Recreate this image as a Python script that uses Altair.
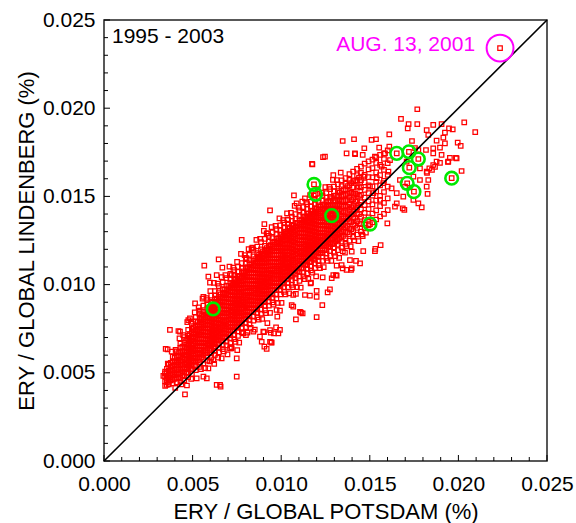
import altair as alt
import pandas as pd

# Erythemal / global irradiance ratios, stored in units of 1e-5 %.
# Dense band of daily values: column position on the Potsdam axis -> Lindenberg values
core_columns = {
    345: [426, 452, 479, 507],
    366: [434, 457, 485, 512, 546],
    388: [440, 463, 491, 512, 540, 563, 592],
    410: [445, 471, 490, 518, 543, 561, 590, 622],
    431: [451, 470, 498, 523, 544, 571, 590, 617, 641, 666],
    453: [458, 481, 503, 531, 549, 576, 598, 619, 648, 670, 703],
    475: [476, 500, 527, 545, 571, 590, 617, 639, 660, 688, 711, 744],
    496: [494, 520, 541, 569, 586, 612, 636, 654, 681, 700, 729, 750, 779],
    518: [515, 537, 564, 582, 609, 628, 653, 671, 699, 717, 744, 764, 791, 815],
    540: [534, 562, 580, 607, 625, 652, 670, 696, 716, 742, 760, 787, 806, 832, 853],
    561: [554, 576, 603, 621, 648, 668, 690, 713, 735, 759, 777, 804, 824, 847, 881],
    583: [569, 595, 615, 643, 661, 687, 705, 731, 752, 774, 797, 815, 843, 861, 889, 912],
    605: [585, 612, 630, 657, 678, 698, 724, 742, 769, 788, 813, 832, 857, 875, 902, 937],
    626: [601, 624, 650, 668, 695, 716, 738, 760, 782, 806, 827, 849, 873, 893, 917, 939, 963],
    648: [616, 643, 662, 689, 708, 733, 751, 778, 797, 822, 840, 866, 884, 911, 930, 956, 991],
    670: [634, 657, 683, 702, 728, 746, 773, 793, 815, 838, 858, 884, 903, 929, 950, 974, 1012],
    691: [656, 677, 704, 722, 749, 767, 794, 812, 838, 857, 881, 903, 925, 948, 970, 994, 1037],
    713: [669, 696, 714, 741, 761, 785, 805, 830, 849, 874, 894, 918, 938, 963, 983, 1009, 1033, 1061],
    735: [691, 713, 739, 757, 784, 803, 827, 847, 871, 892, 914, 936, 960, 980, 1004, 1027, 1052, 1082],
    756: [709, 735, 754, 780, 799, 825, 843, 869, 888, 913, 932, 957, 976, 1002, 1021, 1047, 1072, 1101],
    778: [731, 753, 779, 798, 823, 843, 867, 887, 912, 931, 956, 975, 1001, 1020, 1045, 1066, 1092, 1122],
    800: [759, 781, 806, 825, 851, 870, 894, 914, 938, 958, 983, 1002, 1028, 1047, 1072, 1094, 1119, 1151],
    821: [774, 800, 820, 845, 866, 889, 910, 934, 954, 978, 999, 1022, 1044, 1067, 1090, 1113, 1139, 1168],
    843: [796, 818, 844, 863, 889, 908, 933, 953, 977, 998, 1021, 1043, 1066, 1088, 1111, 1134, 1160, 1197],
    865: [814, 840, 860, 885, 906, 929, 951, 974, 996, 1018, 1041, 1063, 1086, 1108, 1131, 1154, 1179, 1216],
    886: [836, 858, 883, 903, 928, 949, 972, 994, 1016, 1039, 1061, 1084, 1106, 1129, 1151, 1174, 1200, 1241],
    908: [854, 880, 900, 925, 946, 969, 991, 1014, 1036, 1058, 1081, 1103, 1126, 1148, 1171, 1194, 1220, 1259],
    930: [881, 903, 928, 948, 973, 993, 1017, 1038, 1061, 1083, 1105, 1128, 1150, 1173, 1195, 1218, 1244, 1276],
    951: [899, 925, 945, 970, 991, 1014, 1036, 1059, 1081, 1103, 1126, 1148, 1171, 1193, 1216, 1238, 1264, 1296],
    973: [921, 943, 968, 988, 1013, 1034, 1057, 1079, 1101, 1124, 1146, 1169, 1191, 1214, 1236, 1259, 1285, 1314],
    995: [944, 970, 990, 1015, 1036, 1059, 1081, 1104, 1126, 1148, 1171, 1193, 1216, 1238, 1261, 1283, 1308, 1336],
    1016: [959, 985, 1005, 1030, 1051, 1074, 1096, 1119, 1141, 1163, 1186, 1208, 1231, 1253, 1276, 1298, 1322, 1351],
    1038: [986, 1008, 1033, 1053, 1078, 1099, 1122, 1144, 1166, 1189, 1211, 1234, 1256, 1279, 1301, 1324, 1346, 1369],
    1060: [999, 1025, 1045, 1070, 1091, 1114, 1136, 1159, 1181, 1203, 1226, 1248, 1271, 1293, 1316, 1338, 1361, 1386],
    1081: [1011, 1037, 1057, 1082, 1103, 1126, 1148, 1171, 1193, 1215, 1238, 1260, 1283, 1305, 1328, 1350, 1373, 1399],
    1103: [1021, 1047, 1072, 1092, 1117, 1138, 1161, 1183, 1206, 1228, 1250, 1273, 1295, 1318, 1340, 1363, 1388, 1421],
    1125: [1046, 1068, 1093, 1113, 1138, 1159, 1182, 1204, 1227, 1249, 1271, 1294, 1316, 1339, 1361, 1384, 1408, 1439],
    1146: [1064, 1090, 1110, 1135, 1156, 1179, 1201, 1224, 1246, 1268, 1291, 1313, 1336, 1358, 1381, 1403, 1428, 1456],
    1168: [1081, 1103, 1128, 1148, 1173, 1194, 1217, 1239, 1262, 1284, 1306, 1329, 1351, 1374, 1396, 1419, 1443, 1469],
    1190: [1094, 1120, 1140, 1165, 1186, 1209, 1231, 1254, 1276, 1298, 1321, 1343, 1366, 1388, 1411, 1433, 1456, 1481],
    1211: [1111, 1133, 1158, 1178, 1203, 1224, 1247, 1269, 1292, 1314, 1336, 1359, 1381, 1404, 1426, 1449, 1468, 1491],
    1233: [1134, 1160, 1180, 1205, 1226, 1249, 1271, 1294, 1316, 1338, 1361, 1383, 1406, 1428, 1451, 1476, 1504],
    1255: [1151, 1177, 1197, 1222, 1243, 1266, 1288, 1311, 1333, 1355, 1378, 1400, 1423, 1445, 1468, 1493, 1519],
    1276: [1164, 1190, 1215, 1238, 1261, 1286, 1307, 1333, 1354, 1379, 1401, 1426, 1447, 1473, 1497, 1541],
    1298: [1181, 1211, 1236, 1266, 1291, 1318, 1345, 1370, 1398, 1422, 1451, 1476, 1503, 1529, 1556],
    1320: [1196, 1226, 1257, 1283, 1312, 1340, 1366, 1394, 1419, 1448, 1473, 1501, 1530, 1568],
    1341: [1209, 1243, 1270, 1301, 1328, 1359, 1385, 1416, 1443, 1473, 1500, 1532, 1558, 1591],
    1363: [1231, 1262, 1296, 1325, 1357, 1386, 1418, 1447, 1479, 1508, 1540, 1572, 1604],
    1385: [1249, 1286, 1318, 1355, 1387, 1424, 1456, 1493, 1525, 1562, 1594, 1626],
    1406: [1271, 1303, 1341, 1374, 1412, 1445, 1483, 1516, 1553, 1587, 1641],
    1428: [1284, 1322, 1360, 1398, 1436, 1474, 1512, 1550, 1588, 1620, 1656],
    1450: [1301, 1343, 1384, 1426, 1467, 1509, 1551, 1592, 1634, 1669],
    1471: [1321, 1366, 1407, 1451, 1493, 1537, 1579, 1622, 1686],
    1493: [1336, 1381, 1428, 1472, 1518, 1563, 1609, 1653, 1699],
    1515: [1352, 1403, 1455, 1505, 1557, 1608, 1660, 1709],
    1536: [1369, 1421, 1476, 1529, 1583, 1636, 1690, 1721],
    1558: [1386, 1445, 1503, 1562, 1620, 1679, 1736],
    1580: [1401, 1463, 1525, 1588, 1650, 1712, 1744],
    1601: [1422, 1489, 1555, 1622, 1688, 1761],
}

# Inner, most crowded part of the band
inner_columns = {
    355: [446, 465, 484, 505, 522],
    377: [457, 474, 497, 515, 534, 556],
    399: [465, 487, 503, 524, 545, 563, 585],
    420: [476, 493, 516, 533, 556, 574, 593, 617],
    442: [487, 508, 524, 547, 563, 585, 604, 622, 648],
    464: [502, 520, 543, 559, 580, 601, 617, 641, 659, 684],
    485: [522, 541, 558, 582, 598, 621, 638, 661, 680, 698, 719],
    507: [544, 566, 582, 604, 623, 641, 664, 680, 704, 720, 741, 757],
    529: [572, 589, 613, 629, 652, 670, 689, 711, 730, 749, 770, 787],
    550: [589, 613, 630, 651, 672, 689, 713, 729, 751, 772, 788, 806, 822],
    572: [612, 629, 653, 669, 692, 711, 728, 752, 769, 790, 811, 828, 845],
    594: [629, 653, 670, 692, 711, 732, 750, 771, 792, 809, 831, 849, 870],
    615: [647, 663, 687, 706, 724, 747, 763, 786, 805, 824, 846, 864, 881, 897],
    637: [664, 686, 702, 726, 744, 763, 786, 803, 825, 843, 864, 883, 902, 920],
    659: [682, 698, 721, 741, 759, 782, 799, 822, 841, 859, 882, 899, 922, 944],
    680: [700, 722, 738, 761, 781, 798, 821, 839, 859, 880, 898, 921, 939, 955, 972],
    702: [719, 741, 759, 778, 801, 818, 840, 860, 878, 901, 918, 940, 958, 975, 992],
    724: [742, 758, 781, 799, 818, 841, 857, 881, 899, 918, 941, 957, 979, 996, 1010],
    745: [759, 782, 798, 821, 838, 859, 881, 897, 921, 938, 959, 981, 997, 1014, 1032],
    767: [782, 799, 821, 840, 858, 881, 898, 919, 941, 958, 981, 998, 1018, 1035, 1049],
    789: [804, 826, 842, 864, 883, 901, 924, 940, 962, 983, 1000, 1023, 1039, 1058, 1075],
    810: [827, 843, 866, 884, 903, 925, 941, 964, 983, 1001, 1024, 1041, 1062, 1081, 1099],
    832: [844, 866, 884, 903, 926, 942, 965, 983, 1004, 1025, 1042, 1064, 1083, 1101, 1120],
    854: [867, 883, 906, 925, 943, 966, 982, 1005, 1024, 1043, 1066, 1082, 1104, 1123, 1145],
    875: [884, 906, 923, 946, 964, 983, 1006, 1022, 1045, 1063, 1083, 1106, 1122, 1145, 1158, 1170],
    897: [906, 923, 946, 963, 985, 1004, 1022, 1046, 1062, 1084, 1103, 1122, 1145, 1161, 1177, 1189],
    919: [927, 944, 966, 985, 1003, 1026, 1042, 1065, 1084, 1102, 1125, 1141, 1164, 1182, 1196, 1207],
    940: [951, 967, 990, 1008, 1027, 1049, 1066, 1088, 1107, 1126, 1148, 1165, 1186, 1204, 1224],
    962: [969, 992, 1008, 1031, 1049, 1068, 1091, 1107, 1129, 1148, 1167, 1190, 1206, 1227, 1244],
    984: [991, 1008, 1031, 1049, 1068, 1091, 1107, 1130, 1148, 1167, 1190, 1206, 1228, 1247, 1264],
    1005: [1011, 1033, 1050, 1072, 1091, 1110, 1133, 1149, 1171, 1190, 1209, 1231, 1248, 1269, 1284],
    1027: [1029, 1052, 1068, 1091, 1109, 1128, 1151, 1167, 1189, 1208, 1227, 1250, 1266, 1287, 1300],
    1049: [1051, 1067, 1090, 1108, 1127, 1150, 1166, 1189, 1207, 1226, 1249, 1265, 1287, 1305, 1319],
    1070: [1062, 1085, 1101, 1124, 1142, 1161, 1184, 1200, 1222, 1241, 1260, 1283, 1299, 1320, 1334],
    1092: [1076, 1092, 1115, 1133, 1152, 1175, 1191, 1213, 1232, 1251, 1273, 1290, 1312, 1330, 1349],
    1114: [1092, 1115, 1131, 1154, 1172, 1191, 1214, 1230, 1252, 1271, 1290, 1313, 1329, 1350, 1369],
    1135: [1115, 1131, 1154, 1172, 1191, 1214, 1230, 1252, 1271, 1290, 1313, 1329, 1351, 1370, 1387],
    1157: [1129, 1152, 1168, 1191, 1209, 1228, 1251, 1267, 1289, 1308, 1327, 1350, 1366, 1387, 1403],
    1179: [1147, 1163, 1186, 1204, 1223, 1246, 1262, 1284, 1303, 1322, 1345, 1361, 1383, 1401, 1416],
    1200: [1159, 1182, 1198, 1221, 1239, 1258, 1281, 1297, 1319, 1338, 1357, 1380, 1396, 1414, 1428],
    1222: [1179, 1195, 1218, 1236, 1255, 1278, 1294, 1316, 1335, 1354, 1377, 1393, 1415, 1440],
    1244: [1196, 1219, 1235, 1258, 1276, 1295, 1318, 1334, 1356, 1375, 1394, 1417, 1433, 1455],
    1265: [1214, 1231, 1254, 1272, 1291, 1314, 1330, 1352, 1371, 1390, 1413, 1429, 1451, 1473],
    1287: [1229, 1256, 1279, 1306, 1330, 1353, 1378, 1402, 1429, 1452, 1491],
    1309: [1245, 1274, 1297, 1325, 1349, 1375, 1398, 1426, 1450, 1478, 1505],
    1330: [1261, 1292, 1318, 1346, 1373, 1400, 1427, 1454, 1482, 1521],
    1352: [1276, 1310, 1343, 1376, 1409, 1442, 1475, 1508, 1540],
    1374: [1297, 1333, 1372, 1405, 1441, 1477, 1514, 1558],
    1395: [1314, 1356, 1398, 1438, 1479, 1521, 1575],
    1417: [1334, 1379, 1426, 1470, 1516, 1591],
    1439: [1347, 1399, 1452, 1503, 1557, 1606],
}

# Ragged fringe just outside the band (Potsdam, Lindenberg)
fringe_potsdam = [
    402, 437, 468, 492, 523, 547, 571, 598, 622, 644, 676, 697, 719, 742, 763, 786,
    809, 828, 851, 873, 893, 915, 937, 957, 981, 1002, 1024, 1046, 1067, 1089, 1110,
    1133, 1153, 1176, 1197, 1219, 1240, 1262, 1283, 1305, 1327, 1348, 1370, 1392,
    1413, 1436, 1457, 1478,
    360, 382, 404, 426, 447, 470, 491, 512, 534, 556, 578, 600, 620, 642, 664, 685,
    708, 729, 751, 773, 794, 816, 838, 860, 881, 902, 924, 946, 968, 990, 1011, 1033,
    1055, 1076, 1098, 1119, 1141, 1163, 1184, 1206, 1228, 1249, 1271, 1292, 1314, 1336,
]
fringe_lindenberg = [
    414, 434, 428, 466, 469, 521, 526, 564, 550, 586, 621, 605, 645, 675, 671, 723,
    728, 755, 745, 801, 805, 838, 840, 887, 896, 897, 945, 950, 985, 985, 983,
    1031, 1032, 1068, 1046, 1094, 1099, 1135, 1134, 1162, 1151, 1188, 1218, 1217,
    1250, 1246, 1284, 1294,
    552, 620, 630, 695, 714, 787, 790, 842, 871, 920, 924, 963, 1010, 1006, 1043, 1054,
    1102, 1096, 1129, 1174, 1167, 1201, 1210, 1253, 1260, 1305, 1291, 1326, 1333, 1376, 1365, 1404,
    1406, 1446, 1436, 1470, 1468, 1508, 1504, 1541, 1522, 1552, 1554, 1594, 1592, 1635,
]

# Scattered days around the band (Potsdam, Lindenberg), 1e-5 %
scatter_potsdam = [
    335, 354, 348, 372, 429, 457, 636, 658, 749, 359, 344, 420, 476, 485, 514, 538,
    561, 566, 589, 598, 636, 647, 668, 720, 730, 777, 805, 833, 905, 918, 937, 1035,
    1072, 1087, 1134, 1176, 1247, 1294, 580, 561, 589, 617, 664, 655, 720, 752, 711,
    749, 801, 843, 890, 905, 918, 937, 944, 941, 959, 937, 971, 993, 899, 946, 984,
    978, 974, 993, 922, 903, 880, 1083, 1106, 1121, 1059, 1068, 1083, 1134, 1162,
    1166, 1200, 1200, 1232, 1262, 1234, 1285, 1313, 1294, 1068, 1275, 1200, 1168,
    1309, 1347, 1394, 1369, 1398, 1341, 1313, 1445, 1422, 1388, 1360, 1398, 1463,
    1529, 1460, 1531, 1561, 1599, 1695, 1642, 1686, 1793, 1112,
    1768, 1676, 1719, 1768, 1714, 1858, 1905, 1947, 1968, 2033, 2095, 1821, 1830,
    1924, 1915, 1877, 1924, 1996, 2013, 1896, 1858, 1817, 1774, 1610, 1510, 1535,
    1411, 1347, 1553, 1610, 1469, 1416, 1369, 1460, 1529, 1905, 1858, 1943, 1990,
    1877, 1858, 1836, 1821, 1830, 1821, 1826, 2018, 1783, 1174, 1236, 1417, 1755,
    1738, 1952, 1986, 1941, 1896, 1868, 1851, 1823,
    1567, 1605, 1539, 1576, 1623, 1652, 1689, 1746, 1774, 1652, 1558, 1520, 1501,
    1464, 1614, 1586, 1708, 1746, 1783, 1670, 1699,
]
scatter_lindenberg = [
    482, 431, 635, 743, 733, 378, 431, 421, 478, 633, 497, 737, 799, 809, 894, 837,
    931, 1107, 1045, 1011, 1054, 1143, 1096, 1054, 998, 1253, 1149, 1205, 1343, 1290, 1421, 1366,
    1506, 1461, 1489, 1682, 1725, 1621, 469, 478, 525, 572, 582, 431, 638, 629, 639,
    582, 714, 733, 676, 648, 635, 676, 673, 727, 724, 742, 758, 743, 733, 671, 723,
    818, 856, 852, 781, 730, 705, 803, 846, 837, 884, 875, 947, 941, 937,
    1007, 965, 815, 884, 956, 1041, 1036, 1051, 1054, 941, 973, 931, 1011,
    1054, 1092, 1083, 1083, 1092, 1111, 1107, 1120, 1134, 1139, 1181, 1187, 1190,
    1190, 1275, 1202, 1224, 1347, 1423, 1442, 1432, 1438, 841,
    1994, 1939, 1910, 1910, 1886, 1905, 1910, 1886, 1880, 1920, 1865, 1876, 1848,
    1861, 1833, 1816, 1801, 1805, 1786, 1776, 1773, 1763, 1763, 1852, 1820, 1824,
    1824, 1814, 1776, 1782, 1773, 1744, 1744, 1735, 1725, 1735, 1744, 1697, 1716,
    1697, 1678, 1659, 1640, 1593, 1556, 1514, 1644, 1659, 1684, 1723, 1740, 1774,
    1814, 1718, 1718, 1695, 1690, 1667, 1650, 1633,
    1669, 1641, 1603, 1575, 1546, 1518, 1499, 1480, 1461, 1461, 1480, 1518, 1556,
    1612, 1706, 1744, 1697, 1612, 1593, 1593, 1556,
]

# Days ringed in green
ringed_potsdam = [616, 1185, 1194, 1285, 1501, 1652, 1721, 1774, 1723, 1711, 1749, 1962]
ringed_lindenberg = [862, 1568, 1512, 1391, 1343, 1744, 1753, 1712, 1663, 1574, 1527, 1603]

# 13 August 2001
event_potsdam = [2235]
event_lindenberg = [2341]

major_ticks = [0.0, 0.005, 0.010, 0.015, 0.020, 0.025]
minor_ticks = [0.001, 0.002, 0.003, 0.004, 0.006, 0.007, 0.008, 0.009,
               0.011, 0.012, 0.013, 0.014, 0.016, 0.017, 0.018, 0.019,
               0.021, 0.022, 0.023, 0.024]

UNIT = 1e5  # stored values are in 1e-5 %

px, ly = [], []
for columns in (core_columns, inner_columns):
    for col, values in columns.items():
        for v in values:
            px.append(col)
            ly.append(v)
px += fringe_potsdam + scatter_potsdam + ringed_potsdam + event_potsdam
ly += fringe_lindenberg + scatter_lindenberg + ringed_lindenberg + event_lindenberg

points = pd.DataFrame({"potsdam": [v / UNIT for v in px],
                       "lindenberg": [v / UNIT for v in ly]})
ringed = pd.DataFrame({"potsdam": [v / UNIT for v in ringed_potsdam],
                       "lindenberg": [v / UNIT for v in ringed_lindenberg]})
event = pd.DataFrame({"potsdam": [v / UNIT for v in event_potsdam],
                      "lindenberg": [v / UNIT for v in event_lindenberg]})
diag = pd.DataFrame({"potsdam": [0.0, 0.025], "lindenberg": [0.0, 0.025]})

FONT = "Liberation Sans"
W, H = 443, 441

xscale = alt.Scale(domain=[0, 0.025], nice=False, zero=False)
yscale = alt.Scale(domain=[0, 0.025], nice=False, zero=False)

x_axis = alt.Axis(values=major_ticks, format=".3f", title="ERY / GLOBAL POTSDAM (%)",
                  ticks=False, tickSize=0, domain=False, grid=False,
                  labelFont=FONT, labelFontSize=21, labelColor="#000",
                  labelPadding=12, labelFlush=False, labelOverlap=False,
                  titleFont=FONT, titleFontSize=22, titleFontWeight="normal",
                  titleColor="#000", titleY=57, titleBaseline="alphabetic")
y_axis = alt.Axis(values=major_ticks, format=".3f", title="ERY / GLOBAL LINDENBERG (%)",
                  ticks=False, tickSize=0, domain=False, grid=False,
                  labelFont=FONT, labelFontSize=21, labelColor="#000",
                  labelPadding=9, labelFlush=False, labelOverlap=False,
                  titleFont=FONT, titleFontSize=22, titleFontWeight="normal",
                  titleColor="#000", titleX=-71, titleBaseline="alphabetic")

X = alt.X("potsdam:Q", scale=xscale, axis=x_axis)
Y = alt.Y("lindenberg:Q", scale=yscale, axis=y_axis)

scatter = alt.Chart(points).mark_point(
    shape="square", filled=False, color="#ff0000", size=20, strokeWidth=1.25, opacity=1
).encode(x=X, y=Y)

one_to_one = alt.Chart(diag).mark_line(color="#000", strokeWidth=1.6).encode(x=X, y=Y)

rings = alt.Chart(ringed).mark_point(
    shape="circle", filled=False, color="#00e800", size=160, strokeWidth=2.6, opacity=1
).encode(x=X, y=Y)

event_ring = alt.Chart(event).mark_point(
    shape="circle", filled=False, color="#ff00ff", size=720, strokeWidth=2, opacity=1
).encode(x=X, y=Y)

labels = pd.DataFrame({
    "potsdam": [0.00045, 0.02094],
    "lindenberg": [0.0237, 0.02324],
    "text": ["1995 - 2003", "AUG. 13, 2001"],
})
period_label = alt.Chart(labels.iloc[[0]]).mark_text(
    font=FONT, fontSize=21, color="#000", align="left", baseline="alphabetic"
).encode(x=X, y=Y, text="text:N")
event_label = alt.Chart(labels.iloc[[1]]).mark_text(
    font=FONT, fontSize=21, color="#ff00ff", align="right", baseline="alphabetic"
).encode(x=X, y=Y, text="text:N")

# Inward-pointing ticks on the bottom and left edges
major_df = pd.DataFrame({"potsdam": major_ticks, "lindenberg": major_ticks})
minor_df = pd.DataFrame({"potsdam": minor_ticks, "lindenberg": minor_ticks})

def x_ticks(df, length):
    return alt.Chart(df).mark_rule(color="#000", strokeWidth=1).encode(
        x=X, y=alt.value(H), y2=alt.value(H - length),
    )

def y_ticks(df, length):
    return alt.Chart(df).mark_rule(color="#000", strokeWidth=1).encode(
        y=Y, x=alt.value(0), x2=alt.value(length),
    )

chart = alt.layer(
    scatter, one_to_one, rings, event_ring, period_label, event_label,
    x_ticks(major_df, 6), x_ticks(minor_df, 4), y_ticks(major_df, 6), y_ticks(minor_df, 4),
).properties(
    width=W, height=H,
    autosize=alt.AutoSizeParams(type="none"),
    padding={"left": 104, "top": 20, "right": 29, "bottom": 62},
    background="white",
).configure_view(stroke="#222", strokeWidth=1.5)

chart.save("out.html", embed_options={"renderer": "svg", "actions": False})
